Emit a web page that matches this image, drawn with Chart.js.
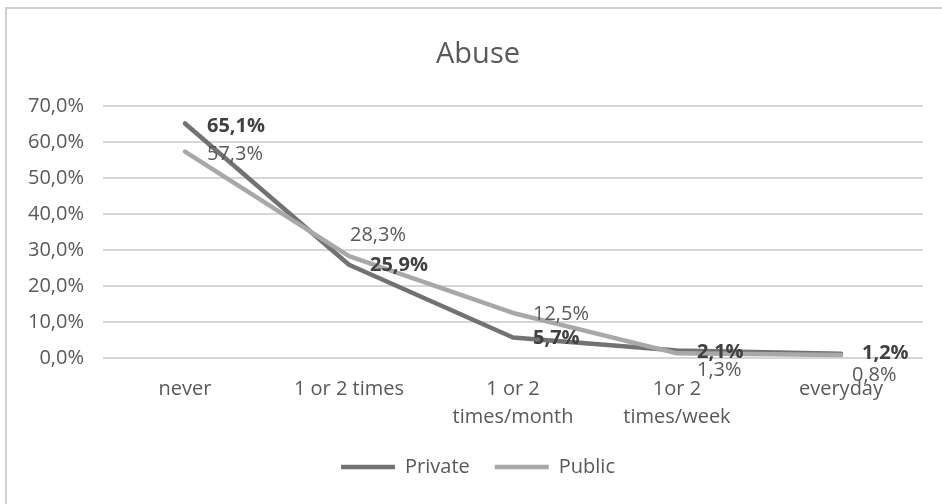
<!DOCTYPE html>
<html>
<head>
<meta charset="utf-8">
<script src="https://cdn.jsdelivr.net/npm/chart.js@4.4.1/dist/chart.umd.min.js"></script>
<style>
  html, body { margin: 0; padding: 0; background: #fff; overflow: hidden; }
  #frame {
    position: absolute; left: 5px; top: 7px;
    border-left: 2px solid #cfcfcf; border-top: 2px solid #cfcfcf;
  }
  #chart { display: block; }
</style>
</head>
<body>
<div id="frame"><canvas id="chart" width="942" height="495"></canvas></div>
<script>
const categories = ["never", "1 or 2 times", ["1 or 2", "times/month"], ["1or 2", "times/week"], "everyday"];
const privateVals = [65.1, 25.9, 5.7, 2.1, 1.2];
const publicVals = [57.3, 28.3, 12.5, 1.3, 0.8];
const yTicks = [0, 10, 20, 30, 40, 50, 60, 70];

const TEXT = "#595959";
const FONT = "'Open Sans', sans-serif";

// where each value label sits relative to its point
const labelPos = {
  Private: { dx: [22, 21, 20, 20, 21], dy: [3, 1, 1, 2, 0], bold: true, color: "#404040" },
  Public: { dx: [22, 1, 20, 20, 11], dy: [3, -21, 1, 17, 20], bold: false, color: TEXT },
};

const pct = (v) => v.toFixed(1).replace(".", ",") + "%";

const valueLabels = {
  id: "valueLabels",
  afterDatasetsDraw(chart) {
    const ctx = chart.ctx;
    ctx.save();
    ctx.textAlign = "left";
    ctx.textBaseline = "middle";
    chart.data.datasets.forEach((ds, di) => {
      const pos = labelPos[ds.label];
      const meta = chart.getDatasetMeta(di);
      ctx.font = `${pos.bold ? "bold " : ""}20px ${FONT}`;
      ctx.fillStyle = pos.color;
      meta.data.forEach((pt, i) => {
        ctx.fillText(pct(ds.data[i]), pt.x + pos.dx[i], pt.y + pos.dy[i]);
      });
    });
    ctx.restore();
  },
};

new Chart(document.getElementById("chart"), {
  type: "line",
  data: {
    labels: categories,
    datasets: [
      {
        label: "Private", data: privateVals, order: 1,
        borderColor: "#727272", backgroundColor: "#727272",
        borderWidth: 4.5, borderCapStyle: "round", borderJoinStyle: "round",
        pointRadius: 0, tension: 0,
      },
      {
        label: "Public", data: publicVals, order: 0,
        borderColor: "#a8a8a8", backgroundColor: "#a8a8a8",
        borderWidth: 4.5, borderCapStyle: "round", borderJoinStyle: "round",
        pointRadius: 0, tension: 0,
      },
    ],
  },
  options: {
    responsive: false,
    animation: false,
    devicePixelRatio: 1,
    layout: { padding: { left: 0, right: 0, top: 0, bottom: 17 } },
    plugins: {
      title: {
        display: true, text: "Abuse", color: TEXT,
        font: { family: FONT, size: 29, weight: "normal" },
        padding: { top: 28, bottom: 34 },
      },
      legend: {
        position: "bottom",
        labels: {
          color: TEXT, font: { family: FONT, size: 20 },
          usePointStyle: true, pointStyle: "line", pointStyleWidth: 54,
          padding: 25,
          sort: (a, b) => a.datasetIndex - b.datasetIndex,
        },
      },
      tooltip: { enabled: false },
    },
    scales: {
      x: {
        offset: true,
        grid: { display: false, drawTicks: false },
        border: { display: false },
        ticks: { color: TEXT, font: { family: FONT, size: 20, lineHeight: 1.4 }, padding: 17, maxRotation: 0, autoSkip: false },
        afterFit: (s) => { s.height = 74; },
      },
      y: {
        min: 0, max: 70,
        afterBuildTicks: (s) => { s.ticks = yTicks.map((v) => ({ value: v })); },
        grid: { color: "#d6d6d6", lineWidth: 2, drawTicks: false },
        border: { display: false },
        ticks: { color: TEXT, font: { family: FONT, size: 20 }, padding: 19, callback: (v) => pct(v) },
        afterFit: (s) => { s.width = 96; },
      },
      // empty right-hand margin so the plot ends short of the frame
      yRight: {
        type: "linear", position: "right",
        grid: { display: false, drawTicks: false },
        border: { display: false },
        ticks: { display: false },
        afterFit: (s) => { s.width = 26; },
      },
    },
  },
  plugins: [valueLabels],
});
</script>
</body>
</html>
